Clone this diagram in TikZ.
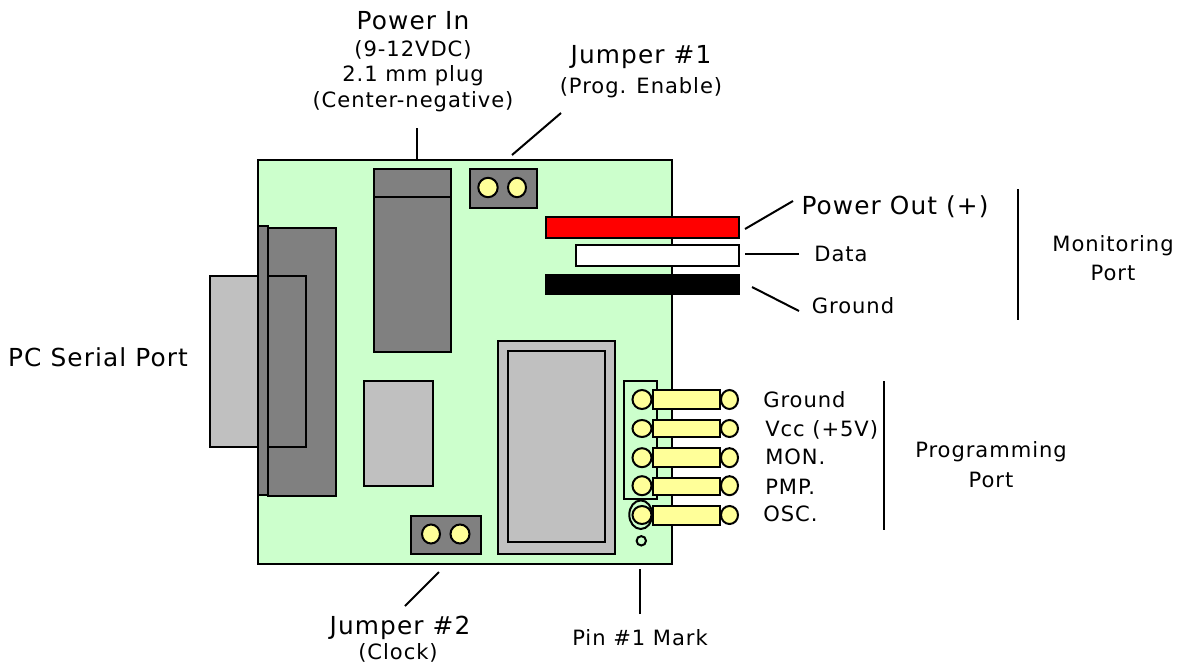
\documentclass[tikz,border=0pt]{standalone}
\usepackage{fontspec}
\setmainfont[LetterSpace=4.5]{DejaVu Sans}
\usepackage{xcolor}
\definecolor{board}{RGB}{204,255,204}
\definecolor{dark}{RGB}{128,128,128}
\definecolor{light}{RGB}{192,192,192}
\definecolor{pin}{RGB}{255,255,153}

\begin{document}
\begin{tikzpicture}[
  x=0.75pt, y=-0.75pt,
  every node/.style={font=\fontsize{15.8pt}{19pt}\selectfont, inner sep=0pt},
  big/.style={font=\fontsize{18.6pt}{22pt}\selectfont},
  part/.style={draw=black, line width=1.5pt},
  leader/.style={draw=black, line width=1.5pt}
]
\useasboundingbox (0,0) rectangle (1183,664);

% Board
\draw[part, fill=board] (258,160) rectangle (672,564);

% Serial connector
\draw[part, fill=dark] (268,228) rectangle (336,496);
\fill[light] (210,276) rectangle (268,447);
\draw[part] (210,276) rectangle (306,447);
\draw[part, fill=dark] (258,226) rectangle (268,495);

% Power jack
\draw[part, fill=dark] (374,169) rectangle (451,352);
\draw[part] (374,197) -- (451,197);

% Jumpers
\draw[part, fill=dark] (470,169) rectangle (537,208);
\draw[part, fill=pin] (488,187.5) circle [x radius=9.7, y radius=9.7];
\draw[part, fill=pin] (517,187.5) circle [x radius=9, y radius=9.7];
\draw[part, fill=dark] (411,516) rectangle (481,554);
\draw[part, fill=pin] (431,534) circle [x radius=9, y radius=9.5];
\draw[part, fill=pin] (460,534) circle [x radius=9.5, y radius=9.5];

% Monitoring strips
\draw[part, fill=red] (546,217) rectangle (739,238);
\draw[part, fill=white] (576,245) rectangle (739,266);
\draw[part, fill=black] (546,275) rectangle (739,294);

% Chips
\draw[part, fill=light] (498,341) rectangle (615,554);
\draw[part, fill=light] (508,351) rectangle (605,542);
\draw[part, fill=light] (364,381) rectangle (433,486);

% Header and pins
\draw[part] (624,381) rectangle (657,499);
\draw[part] (640.8,514.7) circle [x radius=11.5, y radius=14.3];
\draw[part] (641.3,540.8) circle [radius=4.7];

\draw[part, fill=pin] (642,399.5) circle [x radius=9.5, y radius=9.5];
\draw[part, fill=pin] (729.5,399.5) circle [x radius=8.5, y radius=9.5];
\draw[part, fill=pin] (653.3,390) rectangle (719.7,409);
\draw[part, fill=pin] (642,428.5) circle [x radius=9.5, y radius=8.5];
\draw[part, fill=pin] (729.5,428.5) circle [x radius=8.5, y radius=8.5];
\draw[part, fill=pin] (653.3,420) rectangle (719.7,437);
\draw[part, fill=pin] (642,457.7) circle [x radius=9.5, y radius=9.5];
\draw[part, fill=pin] (729.5,457.7) circle [x radius=8.5, y radius=9.5];
\draw[part, fill=pin] (653.3,448.3) rectangle (719.7,467);
\draw[part, fill=pin] (642,485.7) circle [x radius=9.5, y radius=9.5];
\draw[part, fill=pin] (729.5,485.7) circle [x radius=8.5, y radius=9.5];
\draw[part, fill=pin] (653.3,478.3) rectangle (719.7,494.7);
\draw[part, fill=pin] (642,515) circle [x radius=9.5, y radius=9];
\draw[part, fill=pin] (729.5,515) circle [x radius=8.5, y radius=9];
\draw[part, fill=pin] (653.3,506) rectangle (719.7,524.7);

% Labels
\node[big] (powerin) at (413,21) {Power In};
\node (powerv) at (413,50) {(9-12VDC)};
\node (powerplug) at (413,76) {2.1 mm plug};
\node (powerneg) at (413,102) {(Center-negative)};
\node[big] (jumpa) at (641,57) {Jumper \#1};
\node (jumpaname) at (641,88) {(Prog. Enable)};
\node[big] (powerout) at (895,207) {Power Out (+)};
\node (data) at (841,254) {Data};
\node (groundm) at (853,306) {Ground};
\node (monitor) at (1113,246) {Monitoring};
\node (monport) at (1113,273) {Port};
\node[big] (serial) at (98,357) {PC Serial Port};
\node[anchor=west] (pground) at (763,400) {Ground};
\node[anchor=west] (pvcc) at (765,430) {Vcc (+5V)};
\node[anchor=west] (pmon) at (765,457) {MON.};
\node[anchor=west] (ppmp) at (765,487) {PMP.};
\node[anchor=west] (posc) at (763,514) {OSC.};
\node (program) at (991,452) {Programming};
\node (progport) at (991,480) {Port};
\node[big] (jumpb) at (400,628) {Jumper \#2};
\node (jumpbname) at (398,653) {(Clock)};
\node (pinmark) at (640,638) {Pin \#1 Mark};

% Leader ends
\coordinate (a1) at (417,128);
\coordinate (a2) at (417,160);
\coordinate (b1) at (561,113);
\coordinate (b2) at (512,155);
\coordinate (c1) at (793,201);
\coordinate (c2) at (745,229);
\coordinate (d1) at (799,254);
\coordinate (d2) at (745,254);
\coordinate (e1) at (799,311);
\coordinate (e2) at (752,287);
\coordinate (f1) at (1018,189);
\coordinate (f2) at (1018,320);
\coordinate (g1) at (884,381);
\coordinate (g2) at (884,530);
\coordinate (h1) at (405,606);
\coordinate (h2) at (439,572);
\coordinate (i1) at (640,614);
\coordinate (i2) at (640,569);

% Leaders
\draw[leader] (a1) -- (a2);
\draw[leader] (b1) -- (b2);
\draw[leader] (c1) -- (c2);
\draw[leader] (d1) -- (d2);
\draw[leader] (e1) -- (e2);
\draw[leader] (f1) -- (f2);
\draw[leader] (g1) -- (g2);
\draw[leader] (h1) -- (h2);
\draw[leader] (i1) -- (i2);

\end{tikzpicture}
\end{document}
